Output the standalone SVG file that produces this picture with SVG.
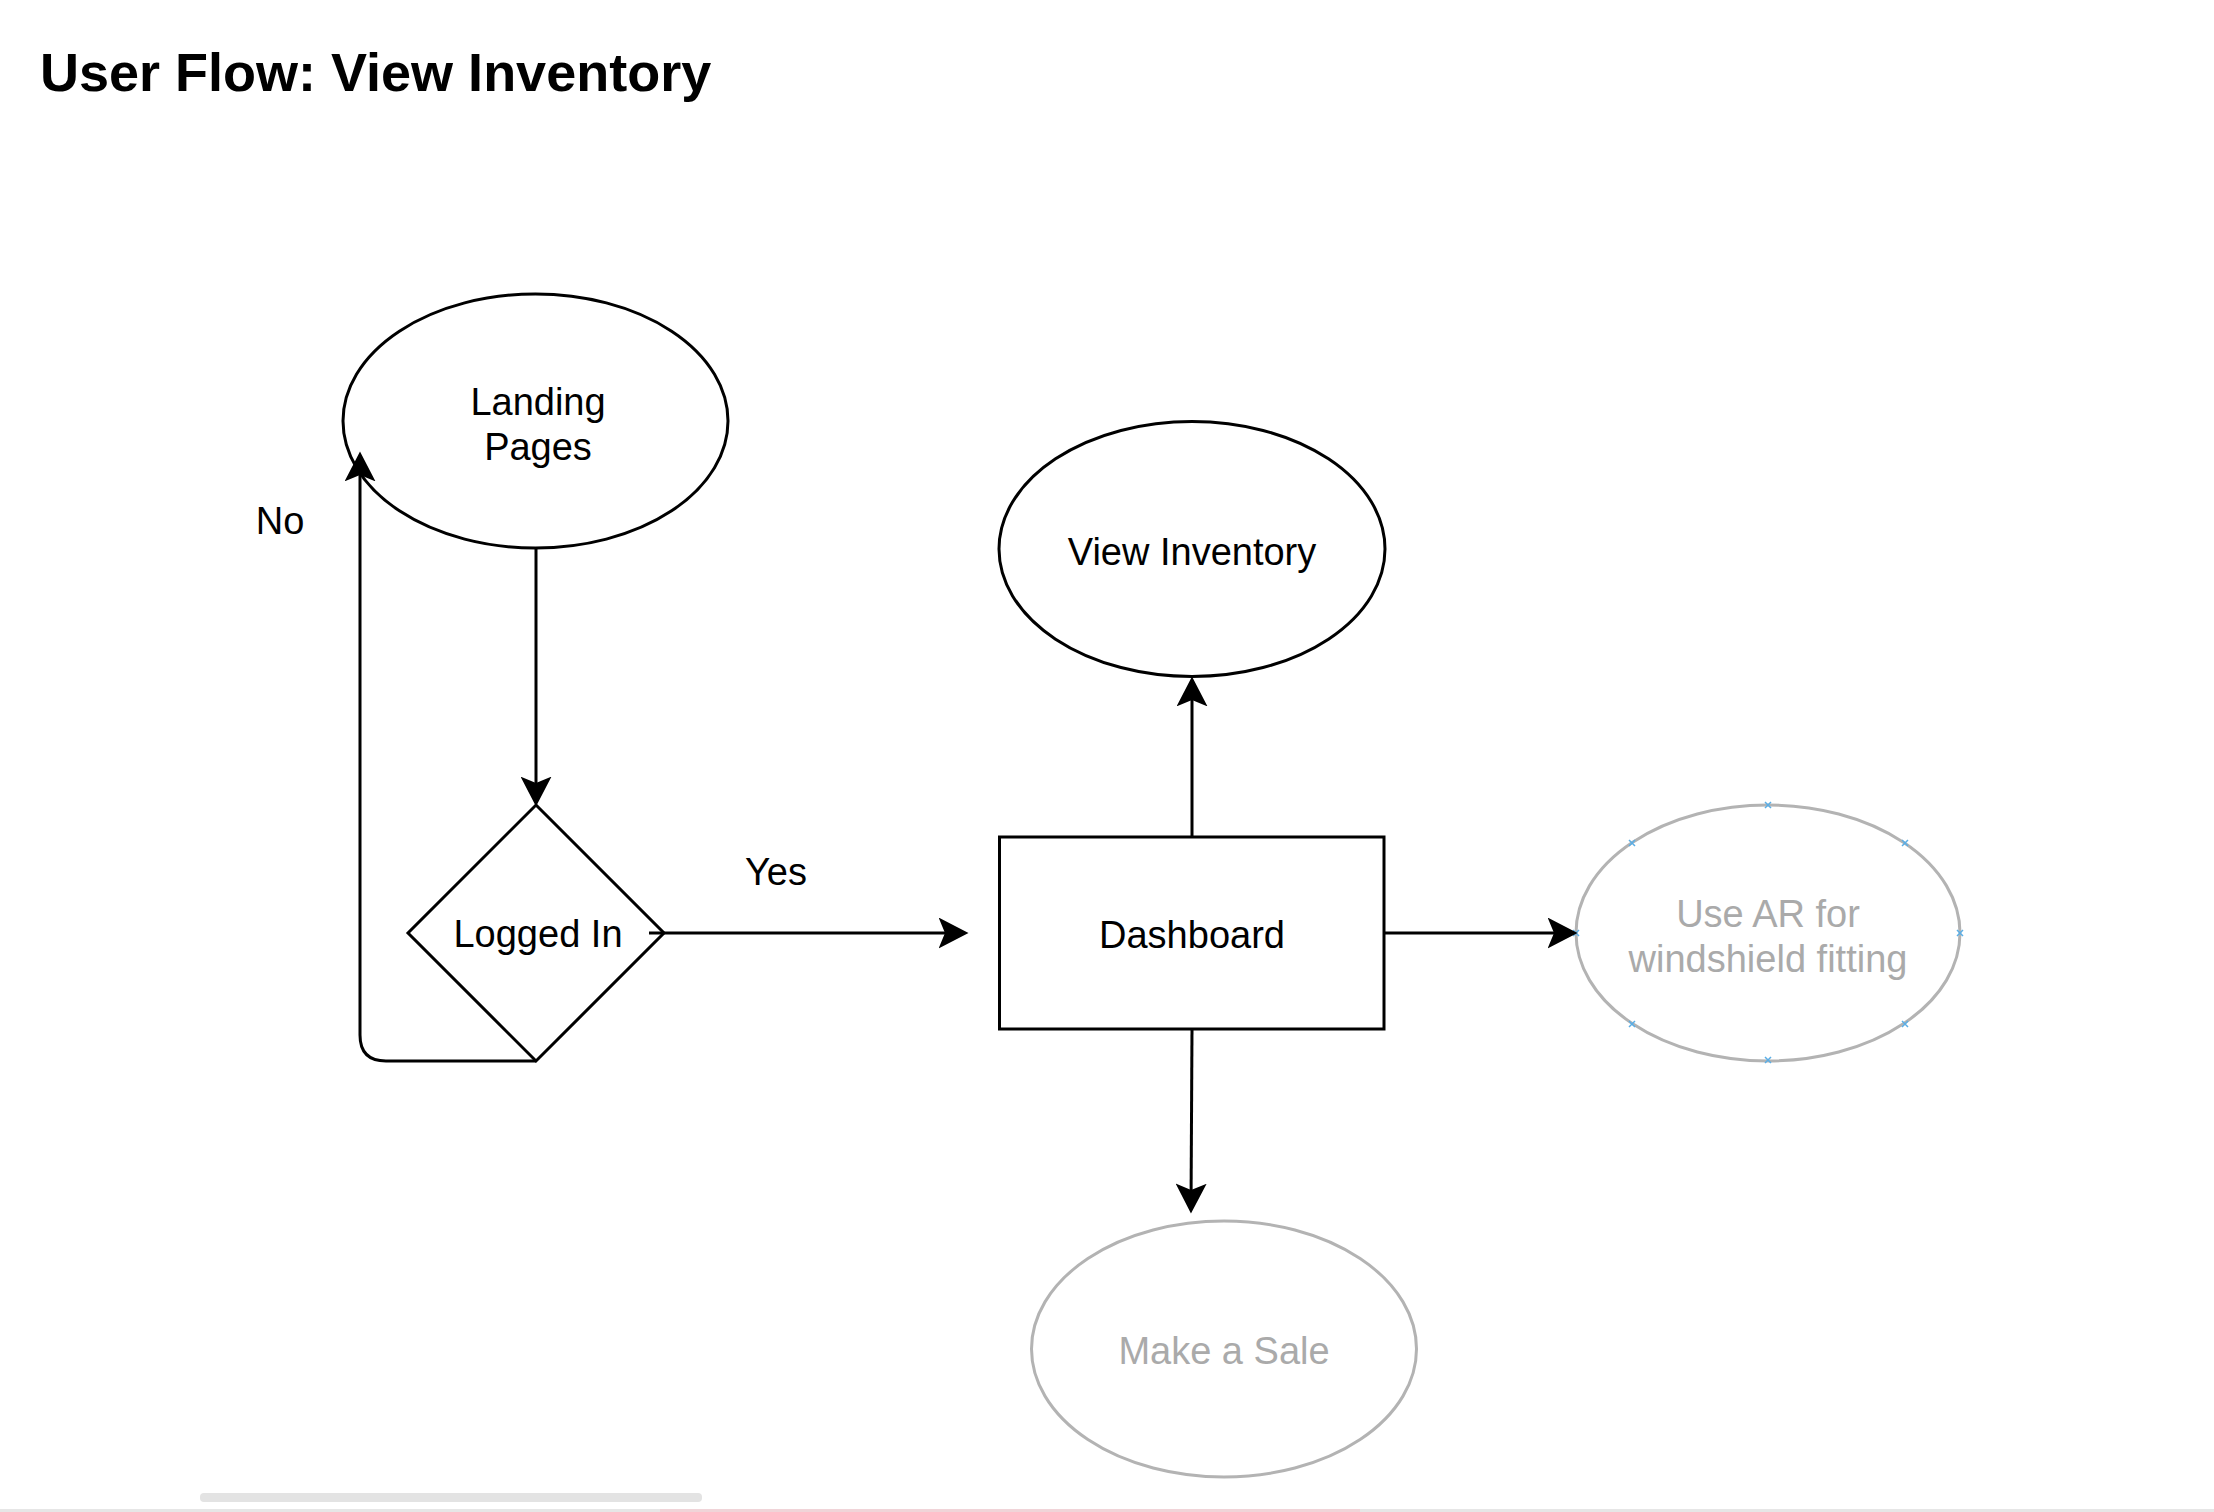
<svg xmlns="http://www.w3.org/2000/svg" width="2214" height="1512" viewBox="0 0 2214 1512">
<style>
text{font-family:"Liberation Sans",Arial,Helvetica,sans-serif;font-size:38px;fill:#000;text-anchor:middle}
.title{font-size:54px;font-weight:bold;text-anchor:start}
.shape{fill:#fff;stroke:#000;stroke-width:3}
.ghost{fill:#fff;stroke:#b3b3b3;stroke-width:3}
.ghostText{fill:#aaaaaa}
.edge{fill:none;stroke:#000;stroke-width:3}
.pt{fill:none;stroke:#5aaee6;stroke-width:1.5}
</style>
<defs>
<marker id="arr" markerUnits="userSpaceOnUse" markerWidth="30" markerHeight="31" viewBox="0 0 28 29" refX="6" refY="14.5" orient="auto">
<path d="M0,0 L28,14.5 L0,29 L6,14.5 Z" fill="#000"/>
</marker>
</defs>
<rect width="2214" height="1512" fill="#fff"/>
<text class="title" x="40" y="91">User Flow: View Inventory</text>

<g id="landing">
<ellipse class="shape" cx="535.5" cy="421" rx="192.5" ry="127"/>
<text x="538" y="415">Landing</text>
<text x="538" y="460">Pages</text>
</g>
<g id="logged-in">
<polygon class="shape" points="536,805 664,933 536,1061 408,933"/>
<text x="538" y="947">Logged In</text>
</g>
<g id="dashboard">
<rect class="shape" x="999.5" y="837" width="384.5" height="192"/>
<text x="1192" y="948">Dashboard</text>
</g>
<g id="view-inventory">
<ellipse class="shape" cx="1192" cy="549" rx="193" ry="127.5"/>
<text x="1192" y="565">View Inventory</text>
</g>
<g id="use-ar">
<ellipse class="ghost" cx="1768" cy="933" rx="192" ry="128"/>
<text class="ghostText" x="1768" y="927">Use AR for</text>
<text class="ghostText" x="1768" y="972">windshield fitting</text>
<g class="pt">
<path d="M1765,802 l6,6 m0,-6 l-6,6"/>
<path d="M1765,1057 l6,6 m0,-6 l-6,6"/>
<path d="M1573,930 l6,6 m0,-6 l-6,6"/>
<path d="M1957,930 l6,6 m0,-6 l-6,6"/>
<path d="M1629,840 l6,6 m0,-6 l-6,6"/>
<path d="M1902,840 l6,6 m0,-6 l-6,6"/>
<path d="M1629,1021 l6,6 m0,-6 l-6,6"/>
<path d="M1902,1021 l6,6 m0,-6 l-6,6"/>
</g>
</g>
<g id="make-a-sale">
<ellipse class="ghost" cx="1224" cy="1349" rx="192.5" ry="128"/>
<text class="ghostText" x="1224" y="1364">Make a Sale</text>
</g>

<g id="connectors">
<path class="edge" d="M536,548 V783" marker-end="url(#arr)"/>
<path class="edge" d="M649,933 H945" marker-end="url(#arr)"/>
<path class="edge" d="M536,1061 H386 Q360,1061 360,1035 V475" marker-end="url(#arr)"/>
<path class="edge" d="M1192,837 V700" marker-end="url(#arr)"/>
<path class="edge" d="M1384,933 H1554" marker-end="url(#arr)"/>
<path class="edge" d="M1192,1029 L1191.1,1190" marker-end="url(#arr)"/>
<text x="776" y="885">Yes</text>
<text x="280" y="534">No</text>
</g>

<rect x="200" y="1493" width="502" height="9" rx="4" fill="#e3e3e3"/>
<rect x="0" y="1509" width="2214" height="3" fill="#e6e6e6"/>
<rect x="660" y="1509" width="700" height="3" fill="#f0d4d8"/>
</svg>
